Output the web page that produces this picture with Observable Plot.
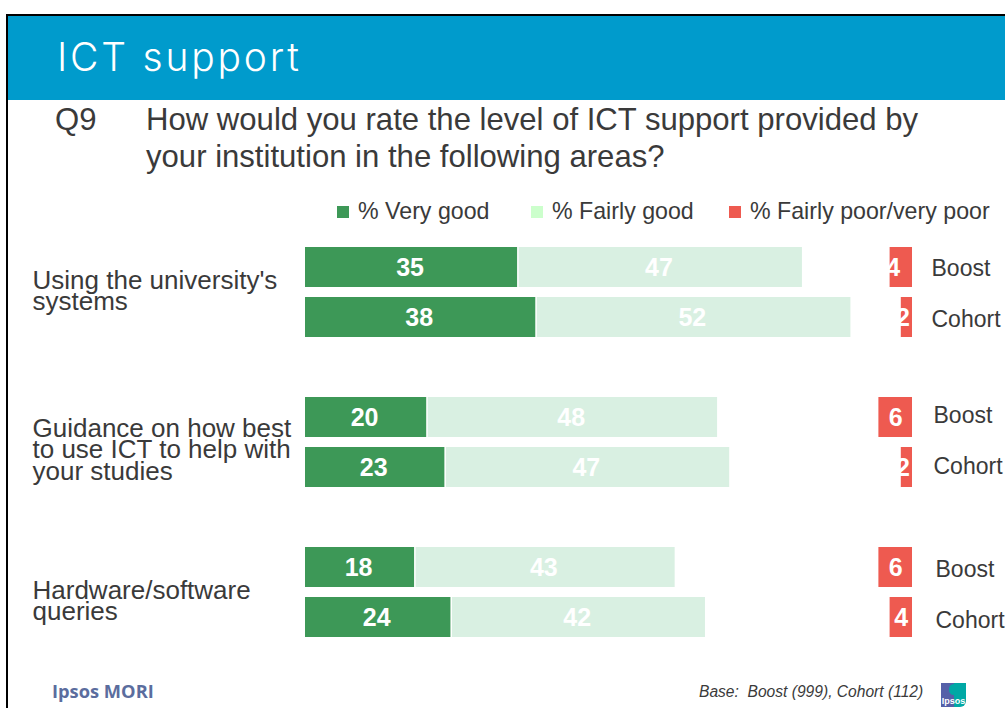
<!DOCTYPE html>
<html>
<head>
<meta charset="utf-8">
<script src="https://cdn.jsdelivr.net/npm/d3@7"></script>
<script src="https://cdn.jsdelivr.net/npm/@observablehq/plot@0.6"></script>
<style>
  html, body { margin: 0; padding: 0; background: #fff; }
  #slide { position: relative; width: 1005px; height: 708px; overflow: hidden; font-family: "Liberation Sans", Arial, sans-serif; color: #3a3a3a; }
  #slide > * { position: absolute; }
  #slide svg { position: absolute; left: 0; top: 0; overflow: visible; background: transparent; }
  .rule-top { left: 6px; top: 14px; width: 999px; height: 2px; background: #000; }
  .rule-left { left: 6px; top: 14px; width: 2px; height: 694px; background: #000; }
  .banner { left: 8px; top: 16px; width: 997px; height: 84px; background: #009bcc; }
  h1 { margin: 0; left: 57px; top: 33px; font: 300 39px/48px Inter, Lato, sans-serif; letter-spacing: 2.8px; color: #fff; white-space: nowrap; }
  .q { margin: 0; font-size: 31.1px; line-height: 37px; white-space: nowrap; }
  .legend-swatch { width: 12px; height: 12px; top: 206px; }
  .legend-label { top: 197px; font-size: 23.2px; line-height: 28px; white-space: nowrap; }
  .brand { left: 52px; top: 679px; font: 700 18.3px/24px "Open Sans", sans-serif; color: #5b6d9e; }
  .base { left: 699px; top: 683px; font-style: italic; font-size: 15.6px; line-height: 18px; white-space: pre; }
  .logo { left: 941px; top: 683px; width: 25px; height: 24px; overflow: hidden; border-radius: 0 0 6px 0; background: linear-gradient(90deg, #5560a8 0 50%, #00a8a5 50% 100%); }
  .logo i { position: absolute; left: 8px; top: 1px; width: 9px; height: 11px; border-radius: 50%; background: #00a8a5; }
  .logo span { position: absolute; left: 0; right: 0; bottom: 1px; text-align: center; font: 700 9px/10px "Liberation Sans", sans-serif; color: #fff; }
</style>
</head>
<body>
<div id="slide">
  <div class="banner"></div>
  <div class="rule-top"></div>
  <div class="rule-left"></div>
  <h1>ICT support</h1>
  <p class="q" style="left:55px;top:101px">Q9</p>
  <p class="q" style="left:146px;top:101px">How would you rate the level of ICT support provided by<br>your institution in the following areas?</p>
  <div class="brand">Ipsos MORI</div>
  <div class="base">Base:  Boost (999), Cohort (112)</div>
  <div class="logo"><i></i><span>Ipsos</span></div>
</div>
<script>
// Survey results, in percent, one entry per question area and respondent group.
const areas = ["Using the university's\nsystems", "Guidance on how best\nto use ICT to help with\nyour studies", "Hardware/software\nqueries"];
const groups = ["Boost", "Cohort"];
const veryGood = [35, 38, 20, 23, 18, 24];
const fairlyGood = [47, 52, 48, 47, 43, 42];
const poor = [4, 2, 6, 2, 6, 4];
const legendLabels = ["% Very good", "% Fairly good", "% Fairly poor/very poor"];
const legendColors = ["#3d9857", "#ccffcc", "#ee5a50"];

const rows = veryGood.map((v, i) => ({
  area: areas[Math.floor(i / 2)],
  group: groups[i % 2],
  veryGood: v,
  fairlyGood: fairlyGood[i],
  poor: poor[i],
  index: i
}));

const darkGreen = "#3d9857", paleGreen = "#d9f0e2", red = "#ee5a50";
const valueFont = {fontFamily: "Liberation Sans, sans-serif", fontWeight: 700, fontSize: 25, fill: "#fff"};
const textFont = {fontFamily: "Liberation Sans, sans-serif", fill: "#3a3a3a"};

// Vertical layout shared by both layers: three facets of two bars each.
const shared = {
  width: 1005, height: 708, marginTop: 246, marginBottom: 71, marginRight: 0,
  style: {background: "transparent"},
  fy: {domain: areas, paddingInner: 0.4, paddingOuter: 0, axis: null},
  y: {domain: groups, paddingInner: 0.2, paddingOuter: 0, axis: null}
};

// Stacked "good" bars, their values, and the area labels on the left.
const areaLabelDrop = [0, 9, 10];
const goodPlot = Plot.plot({
  ...shared,
  marginLeft: 305,
  x: {domain: [0, 100], range: [305, 911], axis: null},
  marks: [
    Plot.barX(rows, {x1: 0, x2: "veryGood", y: "group", fy: "area", fill: darkGreen}),
    Plot.barX(rows, {x1: d => d.veryGood + 0.25, x2: d => d.veryGood + d.fairlyGood, y: "group", fy: "area", fill: paleGreen}),
    Plot.text(rows, {x: d => d.veryGood / 2, y: "group", fy: "area", text: "veryGood", dx: -1.5, ...valueFont}),
    Plot.text(rows, {x: d => d.veryGood + d.fairlyGood / 2, y: "group", fy: "area", text: "fairlyGood", dx: -1, ...valueFont}),
    // Area names hang off the left of the plot, each dropped a little from its facet centre.
    ...areas.map((area, i) => Plot.text([area], {
      fy: d => d, text: d => d, frameAnchor: "left", textAnchor: "start",
      dx: -273, dy: areaLabelDrop[i], fontSize: 26, lineHeight: 0.83, ...textFont
    }))
  ]
});

// Poor ratings on their own scale, growing leftwards from a common baseline.
const labelNudge = [-8, -4, 0, -4, 0, 0];
const groupLabelShift = [0, 2, 4];
const groupLabelDrop = [1, 2, -2, -1, 2, 3];
const poorPlot = Plot.plot({
  ...shared,
  marginLeft: 0,
  x: {domain: [10, 0], range: [856, 912], axis: null},
  marks: [
    Plot.barX(rows, {x1: 0, x2: "poor", y: "group", fy: "area", fill: red}),
    ...rows.map(d => Plot.text([d], {
      x: r => r.poor / 2, y: "group", fy: "area", text: "poor", dx: labelNudge[d.index], ...valueFont
    })),
    ...rows.map(d => Plot.text([d], {
      x: 0, y: "group", fy: "area", text: "group", textAnchor: "start",
      dx: 19 + groupLabelShift[Math.floor(d.index / 2)], dy: groupLabelDrop[d.index], fontSize: 23, ...textFont
    }))
  ]
});

const slide = document.getElementById("slide");
slide.append(goodPlot, poorPlot);

// Legend row above the bars.
[[337, 358], [531, 552], [729, 750]].forEach(([swatchX, labelX], i) => {
  const swatch = document.createElement("div");
  swatch.className = "legend-swatch";
  swatch.style.left = swatchX + "px";
  swatch.style.background = legendColors[i];
  const label = document.createElement("div");
  label.className = "legend-label";
  label.style.left = labelX + "px";
  label.textContent = legendLabels[i];
  slide.append(swatch, label);
});
</script>
</body>
</html>
